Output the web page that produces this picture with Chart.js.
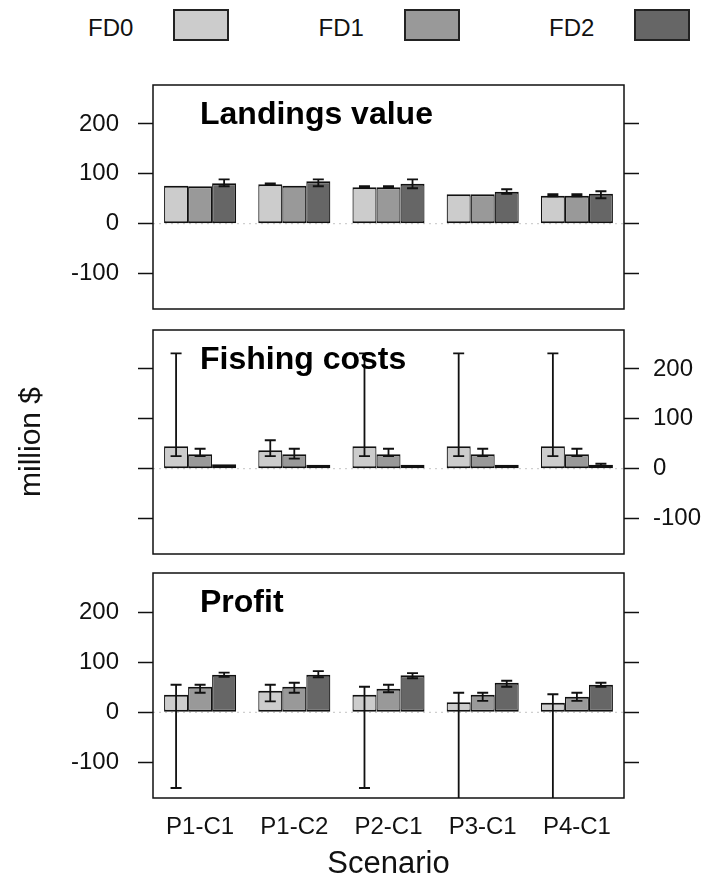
<!DOCTYPE html>
<html>
<head>
<meta charset="utf-8">
<script src="https://cdn.jsdelivr.net/npm/chart.js@4.4.0/dist/chart.umd.min.js"></script>
<style>
    body {
        margin: 0;
        background: #fff;
        width: 704px;
        height: 895px;
        position: relative;
        overflow: hidden;
        font-family: "Liberation Sans", Arial, sans-serif;
    }
    canvas {
        position: absolute;
        left: 0;
    }
    .lg-text {
        position: absolute;
        top: 16px;
        font-size: 24px;
        line-height: 24px;
        color: #111;
    }
    .lg-box {
        position: absolute;
        top: 9px;
        width: 56px;
        height: 32px;
        border: 2px solid #222;
        box-sizing: border-box;
    }
</style>
</head>
<body>
<div id="legend"></div>
<canvas id="landings" width="704" height="296" style="top:49px"></canvas>
<canvas id="costs" width="704" height="296" style="top:294px"></canvas>
<canvas id="profit" width="704" height="358" style="top:537px"></canvas>
<script>
const scenarios = ["P1-C1", "P1-C2", "P2-C1", "P3-C1", "P4-C1"]
const seriesNames = ["FD0", "FD1", "FD2"]
const seriesColors = ["#cccccc", "#999999", "#666666"]
const yTicks = [-100, 0, 100, 200]

// Landings value (million $), bar value + error bar low / high
const landFD0 = [76, 79, 73, 59, 56]
const landFD1 = [75, 76, 73, 59, 56]
const landFD2 = [81, 85, 80, 64, 60]
const landLo0 = [76, 78, 72, 59, 55]
const landHi0 = [76, 81, 75, 59, 59]
const landLo1 = [75, 76, 72, 59, 55]
const landHi1 = [75, 76, 75, 59, 59]
const landLo2 = [75, 75, 71, 60, 51]
const landHi2 = [89, 89, 89, 69, 65]

// Fishing costs
const costFD0 = [45, 37, 45, 45, 45]
const costFD1 = [29, 29, 29, 29, 29]
const costFD2 = [9, 8, 8, 8, 8]
const costLo0 = [25, 25, 25, 25, 25]
const costHi0 = [231, 57, 231, 231, 231]
const costLo1 = [25, 20, 25, 25, 25]
const costHi1 = [40, 40, 40, 40, 40]
const costLo2 = [9, 8, 8, 8, 6]
const costHi2 = [9, 8, 8, 8, 10]

// Profit
const profFD0 = [35, 43, 35, 20, 19]
const profFD1 = [51, 51, 47, 35, 31]
const profFD2 = [75, 75, 74, 59, 55]
const profLo0 = [-151, 22, -151, -200, -200]
const profHi0 = [55, 55, 51, 39, 36]
const profLo1 = [39, 39, 40, 23, 23]
const profHi1 = [55, 59, 55, 39, 39]
const profLo2 = [71, 70, 68, 51, 51]
const profHi2 = [79, 82, 78, 63, 59]

const yMin = -171
const yMax = 278
const fontFamily = "'Liberation Sans', Arial, sans-serif"

// legend: label first, then the swatch
let legend = document.getElementById("legend")
seriesNames.forEach((name, k) => {
    let x = 88 + k * 230.5
    legend.innerHTML += `<span class="lg-text" style="left:${x}px">${name}</span>` +
        `<span class="lg-box" style="left:${x + 85}px;background:${seriesColors[k]}"></span>`
})

// zero line, box and panel title
const frame = {
    id: "frame",
    beforeDatasetsDraw(chart) {
        const ctx = chart.ctx
        const a = chart.chartArea
        const y0 = chart.scales.y.getPixelForValue(0)
        ctx.save()
        ctx.strokeStyle = "#c4c4c4"
        ctx.lineWidth = 1
        ctx.setLineDash([2, 4])
        ctx.beginPath()
        ctx.moveTo(a.left, y0)
        ctx.lineTo(a.right, y0)
        ctx.stroke()
        ctx.restore()
    },
    afterDraw(chart, args, opts) {
        const ctx = chart.ctx
        const a = chart.chartArea
        ctx.save()
        ctx.strokeStyle = "#111"
        ctx.lineWidth = 1.5
        ctx.strokeRect(a.left, a.top, a.right - a.left, a.bottom - a.top)
        ctx.fillStyle = "#000"
        ctx.font = "bold 32px " + fontFamily
        ctx.textBaseline = "alphabetic"
        ctx.fillText(opts.title, a.left + 47, a.top + 39)
        ctx.restore()
    },
}

const errorBars = {
    id: "errorBars",
    afterDatasetsDraw(chart) {
        const ctx = chart.ctx
        const a = chart.chartArea
        const yScale = chart.scales.y
        ctx.save()
        ctx.beginPath()
        ctx.rect(a.left, a.top, a.right - a.left, a.bottom - a.top)
        ctx.clip()
        ctx.strokeStyle = "#111"
        ctx.lineWidth = 1.8
        chart.data.datasets.forEach((ds, i) => {
            chart.getDatasetMeta(i).data.forEach((bar, j) => {
                if (ds.lo[j] === ds.hi[j]) return
                const x = bar.x
                const y1 = yScale.getPixelForValue(ds.lo[j])
                const y2 = yScale.getPixelForValue(ds.hi[j])
                ctx.beginPath()
                ctx.moveTo(x, y1)
                ctx.lineTo(x, y2)
                ctx.moveTo(x - 5.5, y1)
                ctx.lineTo(x + 5.5, y1)
                ctx.moveTo(x - 5.5, y2)
                ctx.lineTo(x + 5.5, y2)
                ctx.stroke()
            })
        })
        ctx.restore()
    },
}

function yAxis(side, showLabels, title) {
    return {
        type: "linear",
        position: side,
        min: yMin,
        max: yMax,
        afterBuildTicks: (s) => {
            s.ticks = yTicks.map((v) => ({ value: v }))
        },
        grid: { drawOnChartArea: false, drawTicks: true, tickLength: 15, tickColor: "#111", tickWidth: 1.5 },
        border: { display: false },
        ticks: {
            display: showLabels,
            color: "#111",
            font: { family: fontFamily, size: 24 },
            padding: side == "left" ? 19 : 14,
        },
        title: {
            display: !!title,
            text: title || "",
            color: "#111",
            font: { family: fontFamily, size: 30 },
            padding: { top: 14, bottom: 0 },
        },
        afterFit: (s) => {
            s.width = side == "left" ? 153 : 80
        },
    }
}

function makePanel(id, title, values, lows, highs, leftLabels, showX) {
    return new Chart(document.getElementById(id), {
        type: "bar",
        data: {
            labels: scenarios,
            datasets: seriesNames.map((name, k) => ({
                label: name,
                data: values[k],
                lo: lows[k],
                hi: highs[k],
                backgroundColor: seriesColors[k],
                borderColor: "#111",
                borderWidth: { top: 2, bottom: 2, left: 1.2, right: 1.2 },
                borderSkipped: false,
                categoryPercentage: 0.765,
                barPercentage: 1,
            })),
        },
        options: {
            responsive: false,
            animation: false,
            events: [],
            // the y tick labels ask for ~34px above and below the plot box
            layout: { padding: { top: 36, bottom: showX ? 0 : 36, left: 0, right: 0 } },
            plugins: {
                legend: { display: false },
                tooltip: { enabled: false },
                frame: { title: title },
            },
            scales: {
                x: {
                    display: showX,
                    grid: { display: false, drawTicks: false },
                    border: { display: false },
                    ticks: { color: "#111", font: { family: fontFamily, size: 24 }, padding: 15, maxRotation: 0 },
                    title: {
                        display: true,
                        text: "Scenario",
                        color: "#111",
                        font: { family: fontFamily, size: 31 },
                        padding: { top: 0, bottom: 12 },
                    },
                    afterFit: (s) => {
                        s.height = showX ? 97 : 0
                    },
                },
                y: yAxis("left", leftLabels, id == "costs" ? "million $" : null),
                y2: yAxis("right", !leftLabels, null),
            },
        },
        plugins: [frame, errorBars],
    })
}

makePanel("landings", "Landings value",
    [landFD0, landFD1, landFD2], [landLo0, landLo1, landLo2], [landHi0, landHi1, landHi2], true, false)
makePanel("costs", "Fishing costs",
    [costFD0, costFD1, costFD2], [costLo0, costLo1, costLo2], [costHi0, costHi1, costHi2], false, false)
makePanel("profit", "Profit",
    [profFD0, profFD1, profFD2], [profLo0, profLo1, profLo2], [profHi0, profHi1, profHi2], true, true)
</script>
</body>
</html>
